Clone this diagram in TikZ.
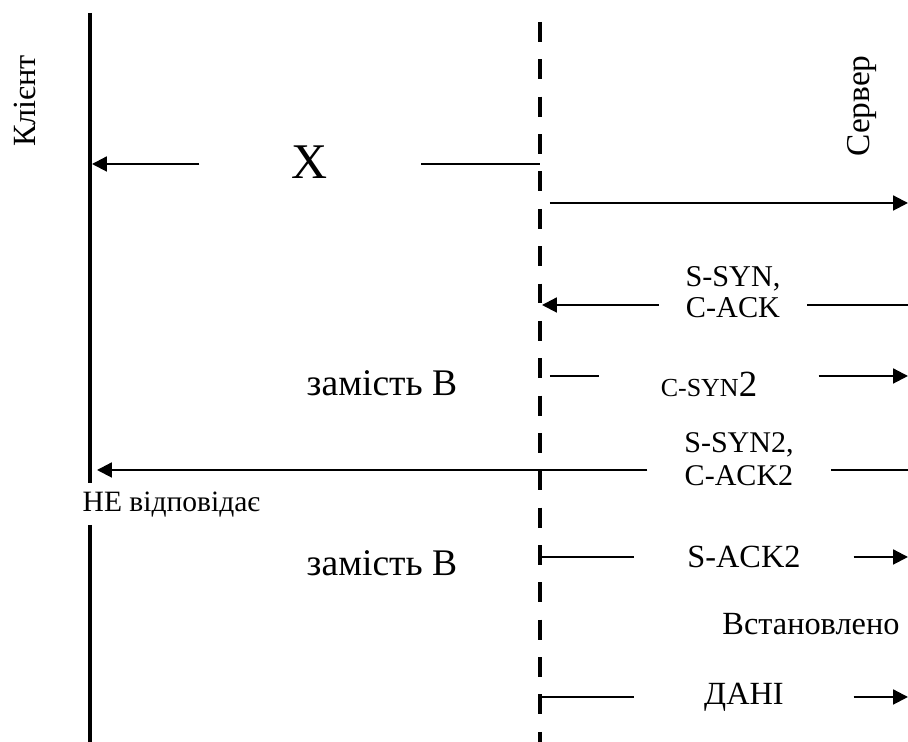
\documentclass[tikz,border=0pt]{standalone}
\usepackage{fontspec}
\setmainfont{Liberation Serif}
\usetikzlibrary{arrows.meta}

\begin{document}
\begin{tikzpicture}[
        every node/.style={font=\fontsize{9.2}{8.3}\selectfont, inner sep=0pt},
        msg/.style={line width=0.6pt},
        msgarr/.style={line width=0.6pt, -{Triangle[length=4.2pt,width=4.2pt]}},
        gaplbl/.style={align=center},
        bigtxt/.style={font=\fontsize{10.7}{12}\selectfont}]
      \useasboundingbox (0,0) rectangle (9.08,7.42);
      % lifelines
      \coordinate (cltop) at (0.90,7.29);
      \coordinate (clcut1) at (0.90,2.59);
      \coordinate (clcut2) at (0.90,2.17);
      \coordinate (clbot) at (0.90,0);
      \coordinate (srvtop) at (5.40,7.20);
      \coordinate (srvbot) at (5.40,0);
      \draw[line width=1.15pt] (cltop) -- (clcut1);
      \draw[line width=1.15pt] (clcut2) -- (clbot);
      \draw[line width=1.4pt, dash pattern=on 5.67pt off 4.96pt] (srvtop) -- (srvbot);
      \node[rotate=90] (clname) at (0.25,6.41) {Клієнт};
      \node[rotate=90, font=\fontsize{9.5}{10}\selectfont] (srvname) at (8.62,6.36) {Сервер};
      \node[anchor=west, font=\fontsize{8.4}{10}\selectfont] (nevid) at (0.82,2.37) {НЕ відповідає};
      % lost message
      \coordinate (s1) at (5.40,5.78);
      \coordinate (c1) at (0.92,5.78);
      \node[minimum width=2.20cm, font=\fontsize{14.2}{16}\selectfont] (m1) at (3.10,5.80) {X};
      \draw[msg] (s1) -- (s1 -| m1.east);
      \draw[msgarr] (s1 -| m1.west) -- (c1);
      \coordinate (s2) at (5.50,5.39);
      \coordinate (e2) at (9.08,5.39);
      \draw[msgarr] (s2) -- (e2);
      % S-SYN, C-ACK
      \coordinate (e3) at (9.08,4.37);
      \coordinate (s3) at (5.42,4.37);
      \node[gaplbl, minimum width=1.47cm, font=\fontsize{8.6}{8.8}\selectfont] (m3) at (7.33,4.50) {S-SYN,\\C-ACK};
      \draw[msg] (e3) -- (e3 -| m3.east);
      \draw[msgarr] (e3 -| m3.west) -- (s3);
      \node[bigtxt] (zam1) at (3.82,3.59) {замість В};
      % C-SYN2
      \coordinate (s4) at (5.50,3.66);
      \coordinate (e4) at (9.08,3.66);
      \node[minimum width=2.18cm] (m4) at (7.09,3.58)
            {{\fontsize{7.4}{8}\selectfont C-SYN}{\fontsize{10.5}{12}\selectfont 2}};
      \draw[msg] (s4) -- (s4 -| m4.west);
      \draw[msgarr] (s4 -| m4.east) -- (e4);
      % S-SYN2, C-ACK2
      \coordinate (e5) at (9.08,2.72);
      \coordinate (c5) at (0.97,2.72);
      \node[gaplbl, minimum width=1.82cm, font=\fontsize{8.55}{9.4}\selectfont] (m5) at (7.39,2.83) {S-SYN2,\\C-ACK2};
      \draw[msg] (e5) -- (e5 -| m5.east);
      \draw[msgarr] (e5 -| m5.west) -- (c5);
      \node[bigtxt] (zam2) at (3.82,1.79) {замість В};
      % S-ACK2
      \coordinate (s6) at (5.40,1.85);
      \coordinate (e6) at (9.08,1.85);
      \node[minimum width=2.18cm] (m6) at (7.44,1.85) {S-ACK2};
      \draw[msg] (s6) -- (s6 -| m6.west);
      \draw[msgarr] (s6 -| m6.east) -- (e6);
      \node (vst) at (8.11,1.18) {Встановлено};
      % data
      \coordinate (s7) at (5.40,0.45);
      \coordinate (e7) at (9.08,0.45);
      \node[minimum width=2.18cm] (m7) at (7.44,0.45) {ДАНІ};
      \draw[msg] (s7) -- (s7 -| m7.west);
      \draw[msgarr] (s7 -| m7.east) -- (e7);
    \end{tikzpicture}
\end{document}
